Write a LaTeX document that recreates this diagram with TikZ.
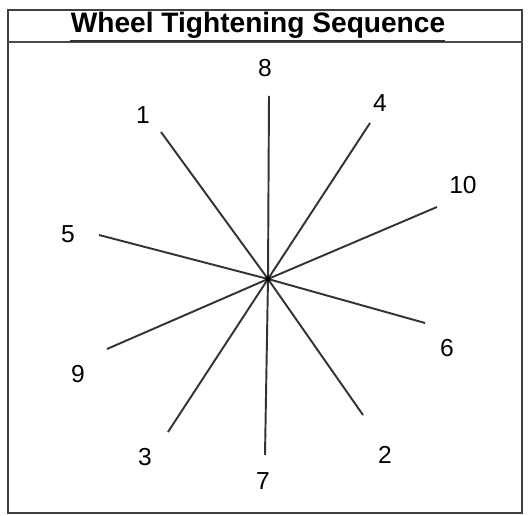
\documentclass[tikz,border=0pt]{standalone}
\usepackage{fontspec}
\setmainfont{Liberation Sans}
\usetikzlibrary{positioning}

\begin{document}
\begin{tikzpicture}[x=0.02cm, y=-0.02cm,
    spoke/.style={draw=black!80, line width=1.1pt},
    num/.style={font=\fontsize{14}{16}\selectfont}]
    \useasboundingbox (0,0) rectangle (529,516);
    % frame and title
    \draw[black!75, line width=0.8pt] (8,10) rectangle (522,513);
    \draw[black!70, line width=0.6pt] (8,42) -- (522,42);
    \node[font=\fontsize{16}{19}\selectfont\bfseries, inner sep=1pt] (title) at (258,25.5) {Wheel Tightening Sequence};
    \draw[black!80, line width=1.4pt] (70,41) -- (445,41);
    % spokes
    \coordinate (C) at (268,279);
    \coordinate (e8) at (269,96);   \coordinate (e7) at (265,455);
    \coordinate (e1) at (161,132);  \coordinate (e2) at (363,415);
    \coordinate (e4) at (370,123);  \coordinate (e3) at (168,432);
    \coordinate (e10) at (437,207); \coordinate (e9) at (107,349);
    \coordinate (e5) at (99,235);   \coordinate (e6) at (425,323);
    \foreach \a/\b in {8/7, 1/2, 4/3, 10/9, 5/6}{
      \draw[spoke] (e\a) -- (C) -- (e\b);
    }
    \fill (C) circle(1.5pt);
    % numbers
    \node[num] (n8) at (265,68) {8};
    \node[num] (n7) at (263,481) {7};
    \node[num] (n1) at (143,115) {1};
    \node[num] (n2) at (385,455) {2};
    \node[num] (n4) at (380,103) {4};
    \node[num] (n3) at (145,457) {3};
    \node[num] (n10) at (463,185) {10};
    \node[num] (n9) at (78,374) {9};
    \node[num] (n5) at (68,234) {5};
    \node[num] (n6) at (447,348) {6};
\end{tikzpicture}
\end{document}
